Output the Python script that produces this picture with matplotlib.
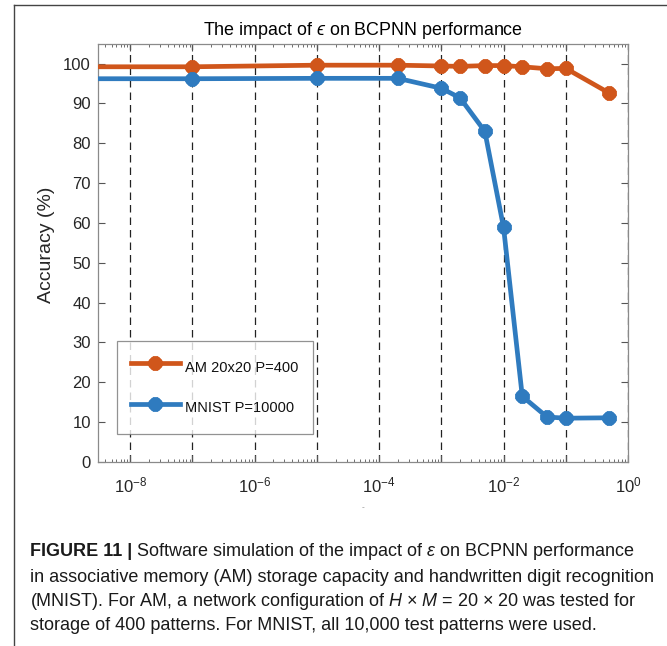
import numpy as np
import matplotlib
matplotlib.use("Agg")
import matplotlib.pyplot as plt
from matplotlib.lines import Line2D
from matplotlib.ticker import LogLocator, FixedLocator, NullFormatter

plt.rcParams["font.family"] = ["Liberation Sans", "DejaVu Sans"]
plt.rcParams["mathtext.fontset"] = "custom"
plt.rcParams["mathtext.rm"] = "Liberation Sans"
plt.rcParams["mathtext.it"] = "Liberation Sans:italic"
plt.rcParams["mathtext.default"] = "regular"

# epsilon values tested
eps = [1e-9, 1e-7, 1e-5, 2e-4, 1e-3, 2e-3, 5e-3, 1e-2, 2e-2, 5e-2, 1e-1, 5e-1]
# accuracy (%)
acc_am = [99.2, 99.2, 99.6, 99.6, 99.4, 99.3, 99.5, 99.5, 99.2, 98.7, 98.8, 92.6]
acc_mnist = [96.2, 96.2, 96.3, 96.3, 93.8, 91.4, 83.0, 58.9, 16.5, 11.3, 11.0, 11.1]
labels = ["AM 20x20 P=400", "MNIST P=10000"]
colors = ["#D0561B", "#2F7BBF"]

fig = plt.figure(figsize=(6.67, 6.46), dpi=100)
ax = fig.add_axes([0.1465, 0.2848, 0.7950, 0.6476])

mk = (8, 2, 0)
for y, lab, c in zip([acc_am, acc_mnist], labels, colors):
    ax.plot(eps, y, color=c, lw=3.4, marker=mk, ms=10, mew=3.8,
            mec=c, mfc=c, label=lab, zorder=3, clip_on=True)

ax.set_xscale("log")
ax.set_xlim(3e-9, 1)
ax.set_ylim(0, 105)
ax.set_yticks(np.arange(0, 101, 10))

ax.xaxis.set_major_locator(FixedLocator([10.0 ** k for k in range(-8, 1)]))
ax.set_xticklabels([f"$10^{{{k}}}$" if k % 2 == 0 else "" for k in range(-8, 1)])
ax.xaxis.set_minor_locator(LogLocator(base=10, subs=np.arange(2, 10), numticks=20))
ax.xaxis.set_minor_formatter(NullFormatter())

ax.tick_params(which="both", direction="in", top=True, right=True,
               colors="#555555", labelcolor="#262626", labelsize=12)
ax.tick_params(which="major", length=5, width=0.8)
ax.tick_params(which="minor", length=2.5, width=0.6)
ax.tick_params(axis="x", pad=10)
ax.tick_params(axis="y", pad=5)

ax.xaxis.grid(True, which="major", ls=(0, (6, 4)), color="#222222", lw=0.9)
ax.set_axisbelow(True)
for s in ax.spines.values():
    s.set_color("#8a8a8a")
    s.set_linewidth(0.9)

ax.set_title("The impact of $\\mathit{\u03f5}$ on BCPNN performance",
             fontsize=12.9, color="#000000", pad=6)
ax.set_ylabel("Accuracy (%)", fontsize=14, color="#262626")
ax.yaxis.set_label_coords(-0.08, 0.52)
ax.set_xlabel("-", fontsize=6, color="#888888", labelpad=6)

leg = ax.legend(loc="lower left", bbox_to_anchor=(0.036, 0.067), fontsize=10.5,
                frameon=True, fancybox=False, borderpad=1.0, labelspacing=1.18,
                handleheight=2.1, handlelength=3.3, handletextpad=0.35,
                borderaxespad=0)
leg.get_frame().set_edgecolor("#777777")
leg.get_frame().set_linewidth(0.9)
for t in leg.get_texts():
    t.set_color("#111111")

# page frame lines (top and left)
fig.add_artist(Line2D([14 / 667, 14 / 667], [0, 1 - 5 / 646], color="#444444", lw=1.0))
fig.add_artist(Line2D([14 / 667, 1], [1 - 5 / 646, 1 - 5 / 646], color="#444444", lw=1.0))

# caption
cap_size = 13.0
x0 = 30 / 667
lines_y = [552, 577, 601, 625]
r = fig.canvas.get_renderer()
bold = fig.text(x0, 1 - lines_y[0] / 646, "FIGURE 11 |", fontsize=cap_size,
                fontweight="bold", va="center", color="#1a1a1a")
bb = bold.get_window_extent(renderer=r)
fig.text((bb.x1 + 4) / fig.bbox.width, 1 - lines_y[0] / 646,
         "Software simulation of the impact of $\\mathit{\u03b5}$ on BCPNN performance",
         fontsize=cap_size, va="center", color="#1a1a1a")
rest = [
    "in associative memory (AM) storage capacity and handwritten digit recognition",
    r"(MNIST). For AM, a network configuration of $\mathit{H}$ $\times$ $\mathit{M}$ = 20 $\times$ 20 was tested for",
    "storage of 400 patterns. For MNIST, all 10,000 test patterns were used.",
]
for yy, s in zip(lines_y[1:], rest):
    fig.text(x0, 1 - yy / 646, s, fontsize=cap_size, va="center", color="#1a1a1a")

fig.savefig("out.png", dpi=100)
